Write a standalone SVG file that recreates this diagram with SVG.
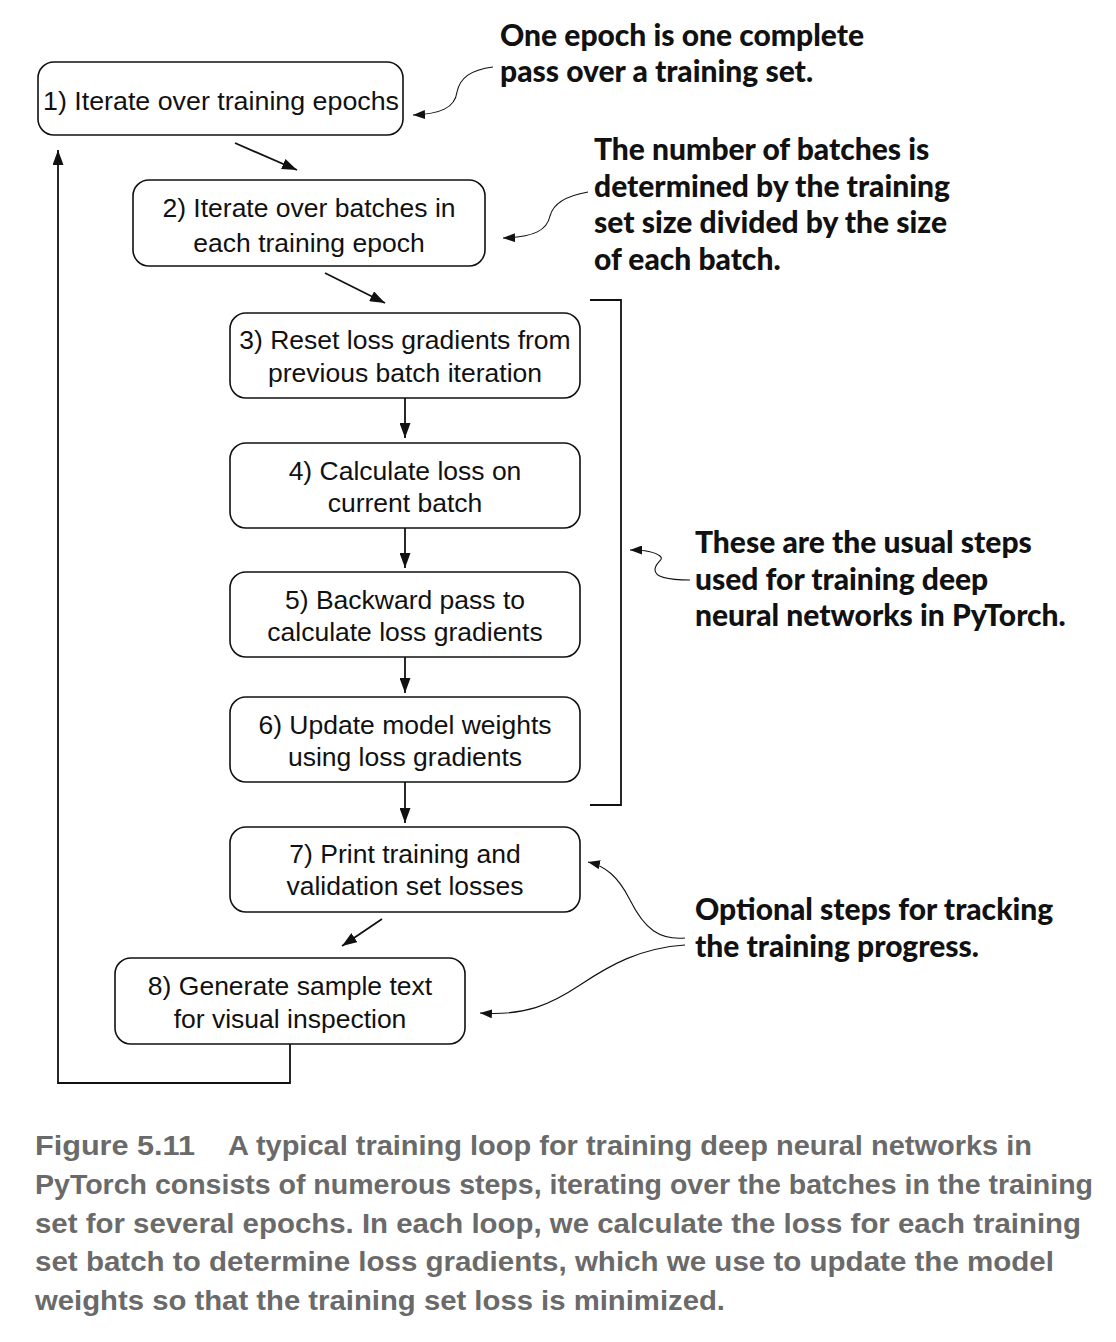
<svg xmlns="http://www.w3.org/2000/svg" width="1116" height="1342" viewBox="0 0 1116 1342">
<defs>
<marker id="ah" viewBox="0 0 15 11" refX="15" refY="5.5" markerWidth="15" markerHeight="11" markerUnits="userSpaceOnUse" orient="auto">
<path d="M0,0 L15,5.5 L0,11 Z" fill="#111"/>
</marker>
<marker id="ahs" viewBox="0 0 12 9" refX="12" refY="4.5" markerWidth="12" markerHeight="9" markerUnits="userSpaceOnUse" orient="auto">
<path d="M0,0 L12,4.5 L0,9 Z" fill="#111"/>
</marker>
</defs>
<style>
.box{fill:#fff;stroke:#111;stroke-width:1.6}
.t{font-family:"Liberation Sans",Arial,sans-serif;font-size:26.5px;fill:#111;text-anchor:middle}
.c{fill:none;stroke:#111;stroke-width:1.8}
.cl{fill:none;stroke:#111;stroke-width:1.1}
.n{font-family:Lato,"Open Sans",sans-serif;font-weight:900;font-size:30px;fill:#111}
.cap{font-family:"Liberation Sans",Arial,sans-serif;font-weight:bold;font-size:27px;fill:#6a6a6a}
</style>
<rect width="1116" height="1342" fill="#fff"/>

<g id="n1"><rect class="box" x="38" y="62" width="365" height="73" rx="16"/><text class="t" x="221" y="110" textLength="356" lengthAdjust="spacingAndGlyphs">1) Iterate over training epochs</text></g>
<g id="n2"><rect class="box" x="133" y="180" width="352" height="86" rx="16"/><text class="t" x="309" y="217">2) Iterate over batches in</text><text class="t" x="309" y="252">each training epoch</text></g>
<g id="n3"><rect class="box" x="230" y="313" width="350" height="85" rx="16"/><text class="t" x="405" y="349">3) Reset loss gradients from</text><text class="t" x="405" y="382">previous batch iteration</text></g>
<g id="n4"><rect class="box" x="230" y="443" width="350" height="85" rx="16"/><text class="t" x="405" y="480">4) Calculate loss on</text><text class="t" x="405" y="512">current batch</text></g>
<g id="n5"><rect class="box" x="230" y="572" width="350" height="85" rx="16"/><text class="t" x="405" y="609">5) Backward pass to</text><text class="t" x="405" y="641">calculate loss gradients</text></g>
<g id="n6"><rect class="box" x="230" y="697" width="350" height="85" rx="16"/><text class="t" x="405" y="734">6) Update model weights</text><text class="t" x="405" y="766">using loss gradients</text></g>
<g id="n7"><rect class="box" x="230" y="827" width="350" height="85" rx="16"/><text class="t" x="405" y="863">7) Print training and</text><text class="t" x="405" y="895">validation set losses</text></g>
<g id="n8"><rect class="box" x="115" y="958" width="350" height="86" rx="16"/><text class="t" x="290" y="995">8) Generate sample text</text><text class="t" x="290" y="1028">for visual inspection</text></g>

<g id="connectors">
<path class="c" d="M235,143 L297,170" marker-end="url(#ah)"/>
<path class="c" d="M325,273 L385,303" marker-end="url(#ah)"/>
<path class="c" d="M405,398 L405,438" marker-end="url(#ah)"/>
<path class="c" d="M405,528 L405,568" marker-end="url(#ah)"/>
<path class="c" d="M405,657 L405,693" marker-end="url(#ah)"/>
<path class="c" d="M405,782 L405,823" marker-end="url(#ah)"/>
<path class="c" d="M382,919 L342,946" marker-end="url(#ah)"/>
<path class="c" d="M290,1044 L290,1083 L58,1083 L58,150" marker-end="url(#ah)"/>
<path class="c" d="M590,300 L621,300 L621,805 L590,805"/>
<path class="cl" d="M493,67 C470,70 460,78 457,92 C455,108 440,114 413,115" marker-end="url(#ahs)"/>
<path class="cl" d="M588,192 C565,196 553,204 550,216 C547,230 535,237 503,238" marker-end="url(#ahs)"/>
<path class="cl" d="M690,580 C670,580 655,578 655,570 C655,562 665,560 660,556 C655,552 645,550 630,550" marker-end="url(#ahs)"/>
<path class="cl" d="M685,938 C660,940 645,930 630,900 C618,876 605,866 588,862" marker-end="url(#ahs)"/>
<path class="cl" d="M685,945 C640,948 610,965 580,985 C550,1005 525,1016 480,1013" marker-end="url(#ahs)"/>
</g>

<g id="notes">
<text class="n"><tspan x="500" y="46">One epoch is one complete</tspan><tspan x="500" y="82">pass over a training set.</tspan></text>
<text class="n"><tspan x="594" y="160">The number of batches is</tspan><tspan x="594" y="197">determined by the training</tspan><tspan x="594" y="233">set size divided by the size</tspan><tspan x="594" y="270">of each batch.</tspan></text>
<text class="n"><tspan x="695" y="553">These are the usual steps</tspan><tspan x="695" y="590">used for training deep</tspan><tspan x="695" y="626">neural networks in PyTorch.</tspan></text>
<text class="n"><tspan x="695" y="920">Optional steps for tracking</tspan><tspan x="695" y="957">the training progress.</tspan></text>
</g>

<g id="caption">
<text class="cap" x="35" y="1155" textLength="160" lengthAdjust="spacingAndGlyphs">Figure 5.11</text>
<text class="cap" x="228" y="1155" textLength="804" lengthAdjust="spacingAndGlyphs">A typical training loop for training deep neural networks in</text>
<text class="cap" x="35" y="1194" textLength="1058" lengthAdjust="spacingAndGlyphs">PyTorch consists of numerous steps, iterating over the batches in the training</text>
<text class="cap" x="35" y="1233" textLength="1046" lengthAdjust="spacingAndGlyphs">set for several epochs. In each loop, we calculate the loss for each training</text>
<text class="cap" x="35" y="1271" textLength="1019" lengthAdjust="spacingAndGlyphs">set batch to determine loss gradients, which we use to update the model</text>
<text class="cap" x="35" y="1310" textLength="690" lengthAdjust="spacingAndGlyphs">weights so that the training set loss is minimized.</text>
</g>
</svg>
